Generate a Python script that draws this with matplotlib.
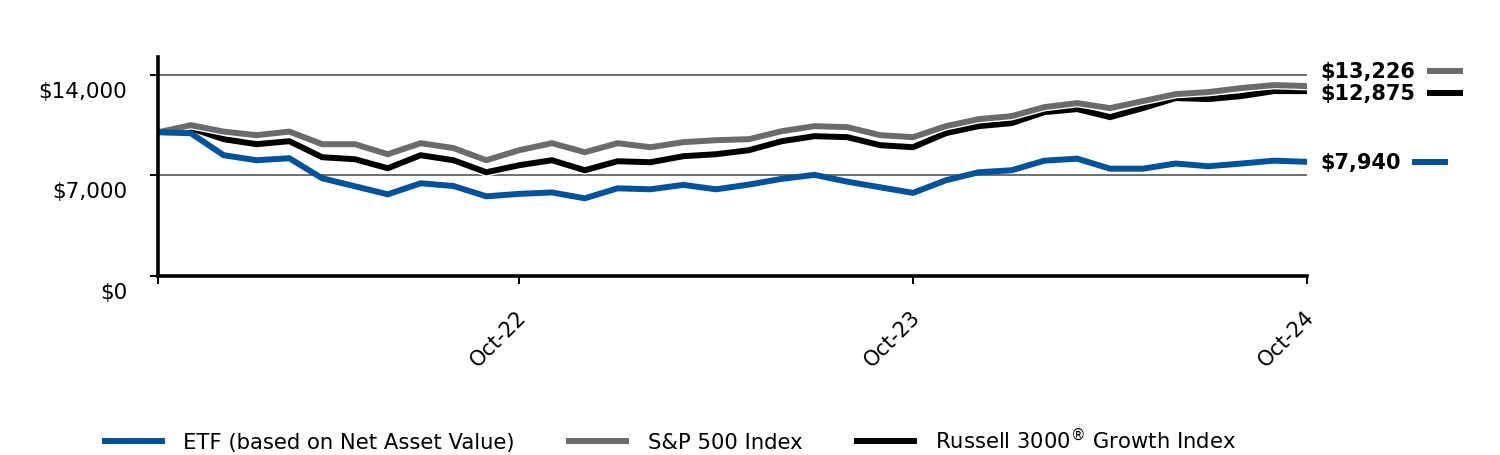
import matplotlib
matplotlib.use("Agg")
import matplotlib.pyplot as plt
import matplotlib.transforms as mtransforms
import matplotlib.patheffects as pe

months = ["Nov-21", "Dec-21", "Jan-22", "Feb-22", "Mar-22", "Apr-22", "May-22", "Jun-22",
          "Jul-22", "Aug-22", "Sep-22", "Oct-22", "Nov-22", "Dec-22", "Jan-23", "Feb-23",
          "Mar-23", "Apr-23", "May-23", "Jun-23", "Jul-23", "Aug-23", "Sep-23", "Oct-23",
          "Nov-23", "Dec-23", "Jan-24", "Feb-24", "Mar-24", "Apr-24", "May-24", "Jun-24",
          "Jul-24", "Aug-24", "Sep-24", "Oct-24"]

etf = [10000, 9940, 8400, 8050, 8190, 6790, 6230, 5670, 6440, 6250, 5530, 5700,
       5800, 5390, 6090, 6020, 6330, 6020, 6350, 6750, 7030, 6550, 6160, 5770,
       6650, 7210, 7350, 8020, 8160, 7460, 7460, 7820, 7630, 7820, 8020, 7940]

sp500 = [10000, 10500, 10050, 9800, 10050, 9170, 9170, 8470, 9240, 8900, 8050, 8750,
         9240, 8610, 9240, 8960, 9310, 9450, 9520, 10080, 10430, 10360, 9800, 9660,
         10430, 10920, 11130, 11760, 12040, 11690, 12180, 12670, 12810, 13090, 13300, 13226]

russell = [10000, 10290, 9520, 9170, 9380, 8260, 8120, 7490, 8400, 8050, 7210, 7700,
           8050, 7350, 7980, 7910, 8330, 8470, 8750, 9380, 9730, 9660, 9100, 8960,
           9940, 10430, 10640, 11410, 11620, 11060, 11690, 12390, 12320, 12530, 12880, 12875]

series_names = ["ETF (based on Net Asset Value)", "S&P 500 Index", "Russell 3000$^{\\circledR}$ Growth Index"]
end_labels = ["$7,940", "$13,226", "$12,875"]
y_ticks = [0, 7000, 14000]
y_tick_labels = ["$0", "$7,000", "$14,000"]
x_tick_idx = [0, 11, 23, 35]
x_tick_labels = ["", "Oct-22", "Oct-23", "Oct-24"]

BLUE = "#00539B"
GRAY = "#6B6B6B"
BLACK = "#000000"

fig = plt.figure(figsize=(15, 4.56), dpi=100)
ax = fig.add_axes([158/1500, 1 - 276.5/456, (1307-158)/1500, (276.5-58)/456])

x = list(range(len(months)))
stroke = [pe.withStroke(linewidth=6.2, foreground="white")]
l3, = ax.plot(x, russell, color=BLACK, lw=4.3, zorder=3, solid_joinstyle="miter", path_effects=stroke)
l2, = ax.plot(x, sp500, color=GRAY, lw=4.3, zorder=4, solid_joinstyle="miter", path_effects=stroke)
l1, = ax.plot(x, etf, color=BLUE, lw=4.3, zorder=5, solid_joinstyle="miter")

ax.set_xlim(0, len(months) - 1)
ax.set_ylim(0, 15260)

for yv in y_ticks[1:]:
    ax.axhline(yv, color="#6E6E6E", lw=1.4, zorder=1)

for s in ["top", "right"]:
    ax.spines[s].set_visible(False)
for s in ["left", "bottom"]:
    ax.spines[s].set_linewidth(2.6)
    ax.spines[s].set_color("black")
    ax.spines[s].set_zorder(6)

ax.set_yticks(y_ticks)
ax.set_yticklabels(y_tick_labels, fontsize=15.5)
ax.tick_params(axis="y", length=6, width=1.4, color="black", pad=16)
offset = mtransforms.ScaledTranslation(0, -14/100, fig.dpi_scale_trans)
for lab in ax.get_yticklabels():
    lab.set_transform(lab.get_transform() + offset)

ax.set_xticks(x_tick_idx)
ax.set_xticklabels(x_tick_labels, fontsize=15, rotation=45, ha="right", rotation_mode="anchor")
ax.tick_params(axis="x", length=6, width=1.4, color="black", pad=16)
xoff = mtransforms.ScaledTranslation(-3/100, 0, fig.dpi_scale_trans)
for lab in ax.get_xticklabels():
    lab.set_transform(lab.get_transform() + xoff)

# end-of-line value labels with small line markers
label_y = [etf[-1], sp500[-1] + 1050, russell[-1] - 120]
colors = [BLUE, GRAY, BLACK]
blend = mtransforms.blended_transform_factory(fig.transFigure, ax.transData)
for txt, yv, c in zip(end_labels, label_y, colors):
    ax.text(1320/1500, yv, txt, transform=blend, fontsize=15, fontweight="bold",
            ha="left", va="center", color="black")
mark_x = [(1415, 1445), (1430, 1460), (1430, 1460)]
for (xa, xb), yv, c in zip(mark_x, label_y, colors):
    ax.plot([xa/1500, xb/1500], [yv, yv], transform=blend, color=c, lw=4.3, clip_on=False)

fig.legend([l1, l2, l3], series_names, loc="center", bbox_to_anchor=(0.447, 1 - 440/456),
           ncol=3, frameon=False, fontsize=15.2, handlelength=2.7, handletextpad=1.0,
           columnspacing=2.6)

fig.savefig("out.png", dpi=100)
